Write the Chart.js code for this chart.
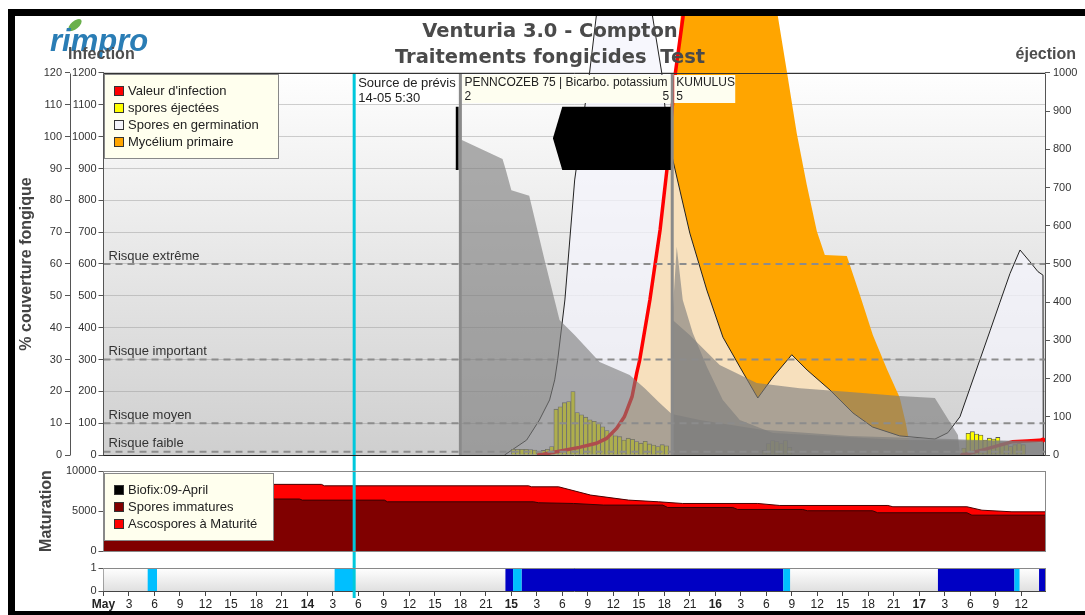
<!DOCTYPE html>
<html>
<head>
<meta charset="utf-8">
<title>Venturia 3.0 - Compton</title>
<script src="https://cdn.jsdelivr.net/npm/chart.js@4.4.1/dist/chart.umd.min.js"></script>
<style>
html, body { margin:0; padding:0; background:#fff; }
#wrap { position:relative; width:1085px; height:615px; overflow:hidden; }
#wrap canvas { position:absolute; left:0; top:0; }
</style>
</head>
<body>
<div id="wrap">
<canvas id="mainChart" width="1085" height="615"></canvas>
<canvas id="matChart" width="1085" height="615"></canvas>
<canvas id="wetChart" width="1085" height="615"></canvas>
</div>
<script>
const FONT = "'Liberation Sans', Arial, Helvetica, sans-serif";
Chart.defaults.font.family = FONT;
Chart.defaults.font.size = 11;
Chart.defaults.color = '#333';

// ---------- time axis: hours since 13 May 00:00 ----------
const HOURS_MAX = 110.8;
const tickLabels = ['May','3','6','9','12','15','18','21',
                    '14','3','6','9','12','15','18','21',
                    '15','3','6','9','12','15','18','21',
                    '16','3','6','9','12','15','18','21',
                    '17','3','6','9','12'];

// ---------- events ----------
const forecastHour = 29.5;
const forecastText = ['Source de prévis', '14-05 5:30'];
const treatmentHours = [42.0, 66.93];
const treatmentText1 = ['PENNCOZEB 75 | Bicarbo. potassium', '2', '5'];
const treatmentText2 = ['KUMULUS', '5'];

// ---------- risk levels (% axis) ----------
const riskLevels = [60, 30, 10, 1];
const riskLabels = ['Risque extrême', 'Risque important', 'Risque moyen', 'Risque faible'];

// ---------- Valeur d'infection (0-1200 axis) ----------
const infectionHours  = [51.3, 53.3, 56.0, 58.0, 59.2, 60.4, 61.3, 62.2, 62.75, 63.1, 64.3, 65.5, 66.3, 66.9, 67.3, 68.2, 69.0, 69.1, 101.1, 103.5, 105.5, 107.0, 108.7, 110.55];
const infectionValues = [0, 10, 24, 37, 52, 84, 120, 183, 257, 298, 487, 707, 895, 1084, 1200, 1376, 1550, null, 0, 16, 31, 42, 44, 47];

// ---------- Spores en germination (% axis) ----------
const sporesHours  = [47.2, 49.8, 51.3, 52.5, 53.1, 53.45, 54.3, 55.45, 57.2, 58.0, 59.0, 64.3, 64.6, 65.7, 66.4, 67.0, 69.0, 71.0, 72.9, 74.9, 77.0, 78.8, 81.0, 82.8, 85.5, 88.2, 90.5, 93.7, 97.84, 99.37, 100.79, 101.97, 103.15, 104.33, 105.5, 106.68, 107.86, 109.03, 109.97, 110.56, 110.6];
const sporesValues = [0, 4.7, 11, 17.3, 23.6, 29.8, 48.7, 86.4, 120, 138, 150, 150, 138, 120, 100, 92.7, 69.7, 51.8, 37, 27.6, 17.9, 24.5, 31.5, 26.7, 20.4, 13.2, 8.8, 6.0, 5.0, 7, 12, 21, 30, 39, 48, 57, 64.4, 60.7, 57.6, 56.5, 0];

// ---------- Mycélium primaire (% axis) ----------
const myceliumHours  = [58.39, 60.27, 61.33, 62.16, 62.75, 63.10, 64.28, 65.46, 66.28, 66.87, 67.34, 67.93, 68.52, 78.6, 79.35, 80.45, 81.59, 82.77, 83.95, 84.89, 87.48, 89.01, 90.54, 92.19, 93.71, 94.42, 94.89, 95.13];
const myceliumValues = [0, 8.5, 12, 18.3, 25.7, 29.8, 48.7, 70.7, 89.5, 108, 120, 138, 150, 150, 138, 120, 101, 84.8, 70.3, 62.8, 62.5, 50.3, 37.7, 27, 18, 10, 3, 0];

// ---------- spores éjectées (éjection axis, half-hour bars) ----------
const ejectHours = [48.25, 48.75, 49.25, 49.75, 50.25, 50.75, 51.25, 51.75, 52.25, 52.75, 53.25, 53.75, 54.25, 54.75, 55.25, 55.75, 56.25, 56.75, 57.25, 57.75, 58.25, 58.75, 59.25, 59.75, 60.25, 60.75, 61.25, 61.75, 62.25, 62.75, 63.25, 63.75, 64.25, 64.75, 65.25, 65.75, 66.25,
                    77.75, 78.25, 78.75, 79.25, 79.75, 80.25, 80.75,
                    101.25, 101.75, 102.25, 102.75, 103.25, 103.75, 104.25, 104.75, 105.25, 105.75, 106.25, 106.75, 107.25, 107.75, 108.25];
const ejectValues = [15, 15, 15, 15, 14, 13, 9, 12, 15, 22, 120, 126, 137, 140, 166, 111, 105, 99, 92, 88, 83, 74, 64, 55, 50, 48, 39, 44, 41, 35, 31, 36, 29, 26, 22, 27, 24,
                     12, 30, 38, 35, 30, 38, 20,
                     18, 57, 61, 55, 52, 39, 44, 42, 46, 32, 27, 22, 27, 30, 27];

// ---------- fungicide coverage layers (% axis) ----------
const coverAHours  = [42.11, 46.96, 47.35, 48.0, 50.1, 51.9, 53.67, 55.44, 58.39, 61.92, 63.69, 65.46, 66.87, 70.17, 77.24, 87.84, 99.62, 110.56, 110.6];
const coverAValues = [99, 93, 89.5, 83.2, 81.4, 61.3, 42.4, 37.7, 29.2, 25.1, 21, 16.3, 12.9, 11, 8, 6, 5, 4, 0];
const coverBHours  = [66.99, 68.98, 72.52, 76.88, 81.94, 87.84, 93.71, 97.84, 100.55, 100.8];
const coverBValues = [42.4, 37.7, 28.3, 22.6, 21, 19.8, 18.5, 17.9, 6.3, 0];
const coverCHours  = [66.99, 67.46, 68.17, 69.35, 71.0, 72.88, 74.88, 78.76, 93.71, 110.56, 110.6];
const coverCValues = [45, 65.4, 48.7, 38.3, 27.7, 17.3, 11, 6.9, 4.7, 4.5, 0];

// ---------- black protection blocks (% axis) ----------
const blockHours  = [52.89, 53.99, 66.87];
const blockTop    = [99.5, 109.4, 109.4];
const blockBottom = [99.5, 89.5, 89.5];
const markHours   = [41.43, 41.81];
const markTop     = [109.4, 109.4];
const markBottom  = [89.5, 89.5];

// ---------- Maturation ----------
const matTotalHours  = [0, 25.64, 26.0, 50.03, 50.38, 53.56, 57.33, 61.80, 65.34, 68.15, 77.00, 79.59, 92.31, 92.90, 101.61, 103.38, 106.91, 110.8];
const matTotalValues = [8330, 8330, 8150, 8150, 8025, 8025, 6990, 6360, 6150, 5940, 5940, 5690, 5690, 5530, 5530, 5100, 4900, 4900];
const matImmHours    = [0, 23.07, 23.40, 33.06, 33.41, 50.61, 51.20, 55.32, 58.86, 65.81, 66.40, 74.06, 74.63, 82.29, 82.86, 90.51, 91.10, 101.61, 102.20, 110.8];
const matImmValues   = [6500, 6500, 6360, 6360, 6150, 6150, 6030, 5940, 5740, 5740, 5440, 5440, 5190, 5190, 5030, 5030, 4780, 4780, 4480, 4480];

// ---------- wetness strip ----------
const wetDark  = [[47.3, 48.2], [49.2, 80.0], [98.2, 107.2], [110.1, 110.8]];
const wetLight = [[5.2, 6.3], [27.2, 29.5], [48.2, 49.2], [80.0, 80.8], [107.2, 107.8]];

// ---------- colours ----------
const C_CYAN = '#00c8dc';
const C_GRAY = 'rgba(125,125,125,0.62)';

// ---------- helpers ----------
const pts = (xs, ys) => xs.map((x, i) => ({x, y: ys[i]}));
const vline = (x, y0, y1) => [{x, y: y0}, {x, y: y1}];
function stepSeries(segs) {
  const out = [{x: 0, y: 0}];
  segs.forEach(([a, b]) => { out.push({x: a, y: 1}, {x: b, y: 0}); });
  out.push({x: HOURS_MAX, y: 0});
  return out;
}
function capTicks(max) { return s => { s.ticks = s.ticks.filter(t => t.value <= max + 1e-6); }; }
function txt(ctx, s, x, y, font, color, align, base) {
  ctx.font = font; ctx.fillStyle = color;
  ctx.textAlign = align || 'left'; ctx.textBaseline = base || 'middle';
  ctx.fillText(s, x, y);
}
function seg(ctx, x0, y0, x1, y1) { ctx.beginPath(); ctx.moveTo(x0, y0); ctx.lineTo(x1, y1); ctx.stroke(); }
function legendBox(ctx, x, y, w, h, items) {
  ctx.fillStyle = '#ffffee'; ctx.fillRect(x, y, w, h);
  ctx.strokeStyle = '#888'; ctx.lineWidth = 1; ctx.strokeRect(x + 0.5, y + 0.5, w, h);
  items.forEach((it, i) => {
    const cy = y + 17 + i * 17;
    ctx.fillStyle = it[0]; ctx.fillRect(x + 10, cy - 5, 10, 10);
    ctx.strokeStyle = '#333'; ctx.strokeRect(x + 10.5, cy - 4.5, 9, 9);
    txt(ctx, it[1], x + 24, cy + 0.5, '13px ' + FONT, '#222');
  });
}
const tickFont = {size: 11, family: FONT};
const noLine = 'rgba(0,0,0,0)';
const xScaleHidden = {type: 'linear', min: 0, max: HOURS_MAX, offset: false, grid: {offset: false}, display: false};

// =================== MAIN CHART ===================
const mainDecor = {
  id: 'mainDecor',
  beforeDraw(chart) {
    const {ctx, chartArea: a} = chart;
    const top = chart.scales.pct.getPixelForValue(120);
    ctx.save();
    ctx.fillStyle = '#fff'; ctx.fillRect(0, 0, chart.width, chart.height);
    const g = ctx.createLinearGradient(0, top, 0, a.bottom);
    g.addColorStop(0, '#fefefe'); g.addColorStop(1, '#cfcfcf');
    ctx.fillStyle = g; ctx.fillRect(a.left, top, a.right - a.left, a.bottom - top);
    ctx.restore();
  },
  afterDatasetsDraw(chart) {
    const {ctx, chartArea: a, scales} = chart;
    const X = v => scales.x.getPixelForValue(v);
    const P = v => scales.pct.getPixelForValue(v);
    ctx.save();
    const yTop = Math.round(P(120)) + 0.5, yBot = Math.round(a.bottom) + 0.5;
    ctx.lineWidth = 1; ctx.strokeStyle = '#555';
    seg(ctx, Math.round(scales.pct.right) + 0.5, yTop, Math.round(scales.pct.right) + 0.5, yBot);
    seg(ctx, a.left, yTop, a.left, yBot);
    seg(ctx, Math.round(a.right) + 0.5, yTop, Math.round(a.right) + 0.5, yBot);
    ctx.strokeStyle = '#333';
    seg(ctx, a.left, yTop, a.right, yTop);
    ctx.strokeStyle = '#222';
    seg(ctx, a.left, yBot, a.right, yBot);
    riskLevels.forEach((lv, i) => txt(ctx, riskLabels[i], a.left + 5, P(lv) - 8, '13px ' + FONT, '#333'));
    legendBox(ctx, 104, 74, 174, 84, [
      ['#ff0000', "Valeur d'infection"], ['#ffff00', 'spores éjectées'],
      ['#f4f4fa', 'Spores en germination'], ['#ffa500', 'Mycélium primaire']]);
    const xf = X(forecastHour);
    const t1 = X(treatmentHours[0]), t2 = X(treatmentHours[1]);
    ctx.fillStyle = '#ffffff'; ctx.fillRect(xf + 2, 74, t1 - xf - 5, 30);
    txt(ctx, forecastText[0], xf + 4, 83, '13px ' + FONT, '#222');
    txt(ctx, forecastText[1], xf + 4, 98, '13px ' + FONT, '#222');
    ctx.fillStyle = '#fefef0'; ctx.fillRect(t1 + 2, 75, t2 - t1 - 4, 28);
    txt(ctx, treatmentText1[0], t1 + 4, 83, '12px ' + FONT, '#222');
    txt(ctx, treatmentText1[1], t1 + 4, 97, '12px ' + FONT, '#222');
    txt(ctx, treatmentText1[2], t2 - 3, 97, '12px ' + FONT, '#222', 'right');
    ctx.fillStyle = '#fefef0'; ctx.fillRect(t2 + 2, 75, 61, 28);
    txt(ctx, treatmentText2[0], t2 + 4, 83, '12px ' + FONT, '#222');
    txt(ctx, treatmentText2[1], t2 + 4, 97, '12px ' + FONT, '#222');
    ctx.save();
    ctx.translate(75, 25); ctx.rotate(-0.7);
    ctx.fillStyle = '#6ab04c'; ctx.beginPath(); ctx.ellipse(0, 0, 8, 4, 0, 0, Math.PI * 2); ctx.fill();
    ctx.restore();
    txt(ctx, 'rimpro', 50, 51, 'italic bold 31px ' + FONT, '#2a7db5', 'left', 'alphabetic');
    txt(ctx, 'Infection', 68, 55, 'bold 16px ' + FONT, '#4d4d4d');
    txt(ctx, 'éjection', 1076, 55, 'bold 16px ' + FONT, '#4d4d4d', 'right');
    ctx.save();
    ctx.translate(27, 264); ctx.rotate(-Math.PI / 2);
    txt(ctx, '% couverture fongique', 0, 0, 'bold 16px ' + FONT, '#444', 'center');
    ctx.restore();
    txt(ctx, 'Venturia 3.0 - Compton', 550, 32, "bold 19.5px 'DejaVu Sans', sans-serif", '#4a4a4a', 'center');
    txt(ctx, 'Traitements fongicides  Test', 550, 58, "bold 19.5px 'DejaVu Sans', sans-serif", '#4a4a4a', 'center');
    ctx.restore();
  },
  afterDraw(chart) {
    const ctx = chart.ctx;
    ctx.save();
    ctx.fillStyle = '#000';
    ctx.fillRect(8, 9, 1077, 7);
    ctx.fillRect(8, 9, 7, 606);
    ctx.fillRect(8, 611, 1077, 4);
    ctx.restore();
  }
};

const mainDatasets = [
  {label: 'forecast', data: vline(forecastHour, 120, -4.8), yAxisID: 'pct', borderColor: C_CYAN, borderWidth: 3, clip: {left: 0, right: 0, top: 0, bottom: 16}, order: 0},
  ...riskLevels.map(lv => ({label: 'risk', data: [{x: 0, y: lv}, {x: HOURS_MAX, y: lv}], yAxisID: 'pct', borderColor: '#8c8c8c', borderWidth: 2, borderDash: [7, 5], order: 1})),
  ...treatmentHours.map(h => ({label: 'treatment', data: vline(h, 0, 120), yAxisID: 'pct', borderColor: '#8a8a8a', borderWidth: 3, order: 2})),
  {label: 'blockTop', data: pts(blockHours, blockTop), yAxisID: 'pct', fill: '+1', backgroundColor: '#000', borderColor: noLine, borderWidth: 0, order: 3},
  {label: 'blockBottom', data: pts(blockHours, blockBottom), yAxisID: 'pct', borderColor: noLine, borderWidth: 0, order: 3},
  {label: 'markTop', data: pts(markHours, markTop), yAxisID: 'pct', fill: '+1', backgroundColor: '#000', borderColor: noLine, borderWidth: 0, order: 3},
  {label: 'markBottom', data: pts(markHours, markBottom), yAxisID: 'pct', borderColor: noLine, borderWidth: 0, order: 3},
  {label: 'coverC', data: pts(coverCHours, coverCValues), yAxisID: 'pct', fill: 'origin', backgroundColor: C_GRAY, borderColor: noLine, borderWidth: 0, order: 4},
  {label: 'coverB', data: pts(coverBHours, coverBValues), yAxisID: 'pct', fill: 'origin', backgroundColor: C_GRAY, borderColor: noLine, borderWidth: 0, order: 5},
  {label: 'coverA', data: pts(coverAHours, coverAValues), yAxisID: 'pct', fill: 'origin', backgroundColor: C_GRAY, borderColor: noLine, borderWidth: 0, order: 6},
  {label: "Valeur d'infection", data: pts(infectionHours, infectionValues), yAxisID: 'inf', borderColor: '#ff0000', borderWidth: 3.5,
   pointRadius: c => ([0, 18, 23].includes(c.dataIndex) ? 2.5 : 0), pointBackgroundColor: '#ff0000', pointBorderWidth: 0, order: 7},
  {type: 'bar', label: 'spores éjectées', data: pts(ejectHours, ejectValues), yAxisID: 'ej', backgroundColor: '#ffff00', borderColor: '#555', borderWidth: 0.8, barPercentage: 1, categoryPercentage: 1, order: 8},
  {label: 'Spores en germination', data: pts(sporesHours, sporesValues), yAxisID: 'pct', fill: 'origin', backgroundColor: 'rgba(244,244,252,0.75)', borderColor: '#222', borderWidth: 1, order: 9},
  {label: 'Mycélium primaire', data: pts(myceliumHours, myceliumValues), yAxisID: 'pct', fill: 'origin', backgroundColor: '#ffa500', borderColor: noLine, borderWidth: 0, order: 10}
];

new Chart(document.getElementById('mainChart'), {
  type: 'line',
  data: {datasets: mainDatasets},
  options: {
    responsive: false, animation: false, events: [],
    layout: {padding: {left: 15, right: 0, top: 16, bottom: 160}},
    elements: {point: {radius: 0}, line: {tension: 0}},
    plugins: {legend: {display: false}, tooltip: {enabled: false}, title: {display: false}},
    scales: {
      x: xScaleHidden,
      pct: {type: 'linear', position: 'left', weight: 1, min: 0, max: 137.9, afterBuildTicks: capTicks(120),
            ticks: {stepSize: 10, padding: 3, font: tickFont, color: '#333'},
            grid: {drawOnChartArea: false, tickLength: 5, tickColor: '#555'}, border: {display: false},
            afterFit: s => { s.width = 55; }},
      inf: {type: 'linear', position: 'left', weight: 0, min: 0, max: 1379, afterBuildTicks: capTicks(1200),
            ticks: {stepSize: 100, padding: 2, font: tickFont, color: '#333', callback: v => String(v)},
            grid: {color: 'rgba(150,150,150,0.45)', tickLength: 5, tickColor: '#555'}, border: {display: false},
            afterFit: s => { s.width = 33.5; }},
      ej: {type: 'linear', position: 'right', min: 0, max: 1149.17, afterBuildTicks: capTicks(1000),
           ticks: {stepSize: 100, padding: 3, font: tickFont, color: '#333', callback: v => String(v)},
           grid: {drawOnChartArea: false, tickLength: 5, tickColor: '#555'}, border: {display: false},
           afterFit: s => { s.width = 40; }}
    }
  },
  plugins: [mainDecor]
});

// =================== MATURATION CHART ===================
const matDecor = {
  id: 'matDecor',
  beforeDatasetsDraw(chart) {
    const {ctx, chartArea: a} = chart;
    ctx.save(); ctx.fillStyle = '#fff'; ctx.fillRect(a.left, a.top, a.right - a.left, a.bottom - a.top); ctx.restore();
  },
  afterDatasetsDraw(chart) {
    const {ctx, chartArea: a} = chart;
    ctx.save();
    ctx.strokeStyle = '#888'; ctx.lineWidth = 1;
    ctx.strokeRect(a.left, Math.round(a.top) + 0.5, Math.round(a.right) - a.left + 0.5, Math.round(a.bottom - a.top));
    legendBox(ctx, 104, 473, 169, 67, [
      ['#000000', 'Biofix:09-April'], ['#800000', 'Spores immatures'], ['#ff0000', 'Ascospores à Maturité']]);
    ctx.restore();
  }
};

new Chart(document.getElementById('matChart'), {
  type: 'line',
  data: {datasets: [
    {label: 'forecast', data: vline(forecastHour, 10100, -2000), borderColor: C_CYAN, borderWidth: 3, clip: {left: 0, right: 0, top: 2, bottom: 17}, order: 0},
    {label: 'Spores immatures', data: pts(matImmHours, matImmValues), fill: 'origin', backgroundColor: '#800000', borderColor: '#3a0000', borderWidth: 1, order: 1},
    {label: 'Ascospores à Maturité', data: pts(matTotalHours, matTotalValues), fill: 'origin', backgroundColor: '#ff0000', borderColor: '#4a0000', borderWidth: 1, order: 2}
  ]},
  options: {
    responsive: false, animation: false, events: [],
    layout: {padding: {left: 15, right: 40, top: 471, bottom: 64}},
    elements: {point: {radius: 0}, line: {tension: 0}},
    plugins: {legend: {display: false}, tooltip: {enabled: false}},
    scales: {
      x: xScaleHidden,
      y: {type: 'linear', min: 0, max: 10000,
          ticks: {stepSize: 5000, padding: 2, font: tickFont, color: '#333', callback: v => String(v)},
          grid: {drawOnChartArea: false, tickLength: 5, tickColor: '#555'}, border: {color: '#555'},
          title: {display: true, text: 'Maturation', color: '#444', font: {size: 16, weight: 'bold', family: FONT}, padding: {top: 22, bottom: 0}},
          afterFit: s => { s.width = 88.5; }}
    }
  },
  plugins: [matDecor]
});

// =================== WETNESS STRIP ===================
const wetDecor = {
  id: 'wetDecor',
  beforeDatasetsDraw(chart) {
    const {ctx, chartArea: a} = chart;
    ctx.save();
    const g = ctx.createLinearGradient(0, a.top, 0, a.bottom);
    g.addColorStop(0, '#ffffff'); g.addColorStop(1, '#e0e0e0');
    ctx.fillStyle = g; ctx.fillRect(a.left, a.top, a.right - a.left, a.bottom - a.top);
    ctx.restore();
  },
  afterDatasetsDraw(chart) {
    const {ctx, chartArea: a} = chart;
    ctx.save();
    ctx.strokeStyle = '#888'; ctx.lineWidth = 1;
    seg(ctx, a.left, Math.round(a.top) + 0.5, a.right, Math.round(a.top) + 0.5);
    seg(ctx, Math.round(a.right) + 0.5, a.top, Math.round(a.right) + 0.5, a.bottom);
    ctx.restore();
  }
};

new Chart(document.getElementById('wetChart'), {
  type: 'line',
  data: {datasets: [
    {label: 'forecast', data: vline(forecastHour, 1.05, -0.3), borderColor: C_CYAN, borderWidth: 3, clip: {left: 0, right: 0, top: 2, bottom: 8}, order: 0},
    {label: 'wet-light', data: stepSeries(wetLight), stepped: 'before', fill: 'origin', backgroundColor: '#00bfff', borderColor: noLine, borderWidth: 0, order: 1},
    {label: 'wet-dark', data: stepSeries(wetDark), stepped: 'before', fill: 'origin', backgroundColor: '#0000c4', borderColor: noLine, borderWidth: 0, order: 2}
  ]},
  options: {
    responsive: false, animation: false, events: [],
    layout: {padding: {left: 15, right: 40, top: 568, bottom: 0}},
    elements: {point: {radius: 0}, line: {tension: 0}},
    plugins: {legend: {display: false}, tooltip: {enabled: false}},
    scales: {
      x: {type: 'linear', min: 0, max: HOURS_MAX, offset: false,
          afterBuildTicks: s => { s.ticks = tickLabels.map((_, i) => ({value: i * 3})); },
          ticks: {autoSkip: false, maxRotation: 0, padding: 1, color: '#222',
                  callback: (v, i) => tickLabels[i],
                  font: c => ({family: FONT, size: 12, weight: (c.index % 8 === 0) ? 'bold' : 'normal'})},
          grid: {drawOnChartArea: false, tickLength: 5, tickColor: '#444', offset: false}, border: {color: '#444'},
          afterFit: s => { s.height = 24; }},
      y: {type: 'linear', min: 0, max: 1,
          ticks: {stepSize: 1, padding: 2, font: tickFont, color: '#333'},
          grid: {drawOnChartArea: false, tickLength: 5, tickColor: '#555'}, border: {color: '#555'},
          afterFit: s => { s.width = 88.5; }}
    }
  },
  plugins: [wetDecor]
});
</script>
</body>
</html>
